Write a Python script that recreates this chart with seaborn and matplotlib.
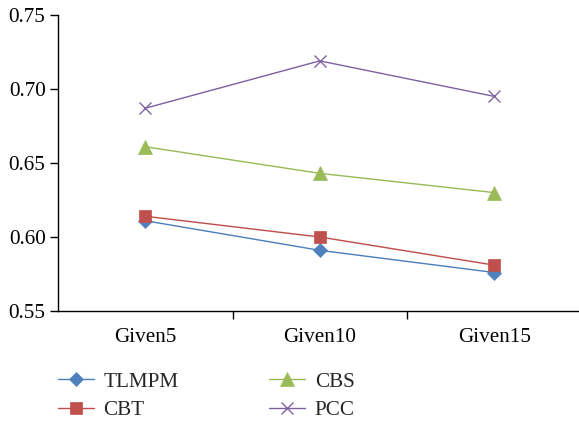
import matplotlib
matplotlib.use("Agg")
import matplotlib.pyplot as plt
import seaborn as sns
import pandas as pd

categories = ["Given5", "Given10", "Given15"]
series_names = ["TLMPM", "CBT", "CBS", "PCC"]
tlmpm = [0.611, 0.591, 0.576]
cbt = [0.614, 0.600, 0.581]
cbs = [0.661, 0.643, 0.630]
pcc = [0.687, 0.719, 0.695]
y_ticks = [0.55, 0.60, 0.65, 0.70, 0.75]

values = {"TLMPM": tlmpm, "CBT": cbt, "CBS": cbs, "PCC": pcc}

styles = {
    "TLMPM": dict(line="#4A7EBB", face="#4F81BD", marker="D", ms=7.0),
    "CBT": dict(line="#BE4B48", face="#C0504D", marker="s", ms=8.0),
    "CBS": dict(line="#98B954", face="#9BBB59", marker="^", ms=9.5),
    "PCC": dict(line="#7D60A0", face="#8064A2", marker="x", ms=8.0),
}

sns.set_style("white")
plt.rcParams["font.family"] = ["Liberation Serif", "DejaVu Serif"]
FS = 15.2
plt.rcParams["font.size"] = FS

rows = []
for name in series_names:
    for i, (cat, v) in enumerate(zip(categories, values[name])):
        rows.append({"series": name, "pos": i, "category": cat, "value": v})
df = pd.DataFrame(rows)

fig = plt.figure(figsize=(5.79, 4.23), dpi=100)
W, H = 579, 423
left_px, right_px, top_px, bottom_px = 58, 581.5, 15, 311
ax = fig.add_axes([left_px / W, 1 - bottom_px / H,
                   (right_px - left_px) / W, (bottom_px - top_px) / H])

for name in series_names:
    st = styles[name]
    sub = df[df["series"] == name]
    sns.lineplot(data=sub, x="pos", y="value", ax=ax, label=name,
                 color=st["line"], linewidth=1.0,
                 marker=st["marker"], markersize=st["ms"],
                 markerfacecolor=st["face"], markeredgecolor=st["face"],
                 markeredgewidth=1.0 if st["marker"] == "x" else 0.5,
                 clip_on=False, zorder=3)

ax.set_xlim(-0.5, len(categories) - 0.5)
ax.set_ylim(0.55, 0.75)
ax.set_yticks(y_ticks)
ax.set_yticklabels([f"{t:.2f}" for t in y_ticks])
ax.set_xticks(range(len(categories)))
ax.set_xticklabels(categories)
ax.set_xticks([i + 0.5 for i in range(len(categories) - 1)], minor=True)
ax.tick_params(axis="x", which="major", bottom=True, length=0, pad=12,
               colors="black", labelsize=FS)
ax.tick_params(axis="x", which="minor", bottom=True, length=6, width=1.0,
               direction="out", color="black")
ax.tick_params(axis="y", which="major", left=True, length=6, width=1.0,
               direction="out", pad=3, colors="black", labelsize=FS)
ax.set_xlabel("")
ax.set_ylabel("")

for side in ["top", "right"]:
    ax.spines[side].set_visible(False)
for side in ["left", "bottom"]:
    ax.spines[side].set_color("black")
    ax.spines[side].set_linewidth(1.0)

ax.legend_.remove()
handles, labels = ax.get_legend_handles_labels()
fig.legend(handles, labels, ncol=2, loc="center left",
           bbox_to_anchor=(58 / W, 1 - 396 / H), frameon=False,
           borderpad=0, borderaxespad=0, handlelength=1.7,
           handletextpad=0.45, columnspacing=4.3, labelspacing=0.4,
           fontsize=FS)

fig.savefig("out.png", dpi=100)
